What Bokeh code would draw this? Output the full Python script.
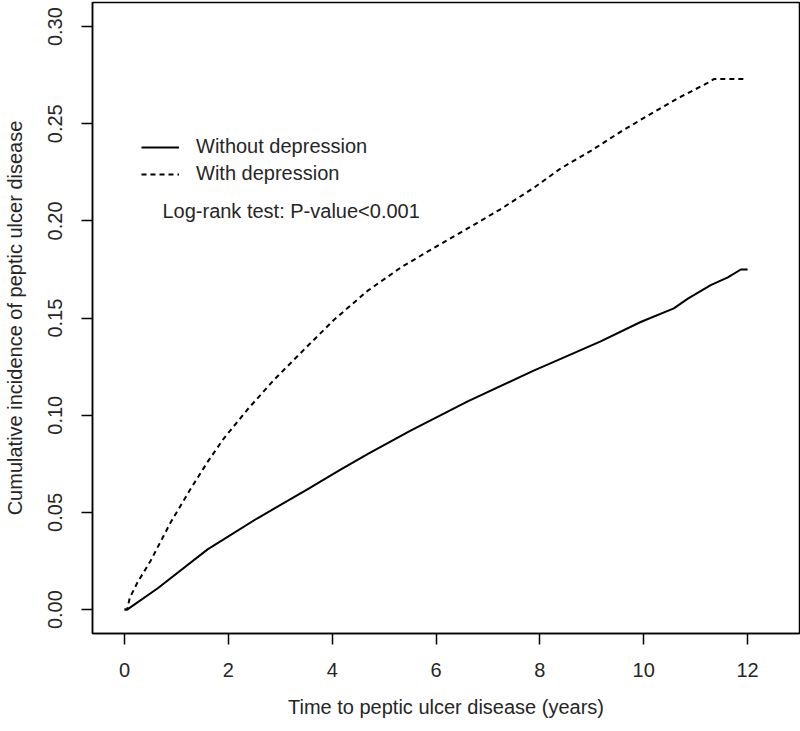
from bokeh.plotting import figure
from bokeh.models import Range1d, FixedTicker, Legend, LegendItem, Label, CustomJSTickFormatter
from bokeh.embed import file_html
from bokeh.resources import INLINE

# --- data ---
t_dep = [0.0, 0.05, 0.1, 0.25, 0.5, 0.89, 1.27, 1.6, 1.91, 2.37, 2.87, 3.39, 4.03, 4.68, 5.32,
         5.95, 6.6, 7.24, 7.88, 8.4, 8.98, 9.56, 10.13, 10.65, 11.23, 11.35, 11.97]
v_dep = [0.0, 0.0, 0.006, 0.014, 0.025, 0.045, 0.062, 0.076, 0.088, 0.103, 0.118, 0.132, 0.149,
         0.164, 0.176, 0.186, 0.196, 0.206, 0.217, 0.227, 0.236, 0.246, 0.255, 0.263, 0.271,
         0.273, 0.273]

t_nodep = [0.0, 0.05, 0.64, 1.6, 2.56, 3.53, 4.16, 4.68, 5.5, 6.6, 7.88, 8.4, 9.17, 9.94, 10.58,
           10.85, 11.29, 11.62, 11.87, 12.0]
v_nodep = [0.0, 0.0, 0.011, 0.031, 0.047, 0.062, 0.072, 0.080, 0.092, 0.107, 0.123, 0.129, 0.138,
           0.148, 0.155, 0.160, 0.167, 0.171, 0.175, 0.175]

x_ticks = [0, 2, 4, 6, 8, 10, 12]
y_ticks = [0.00, 0.05, 0.10, 0.15, 0.20, 0.25, 0.30]

FONT = "Liberation Sans"
TXT = "#262626"
FS = "20px"

p = figure(width=800, height=731, output_backend="svg", toolbar_location=None,
           x_range=Range1d(-0.617, 13.0), y_range=Range1d(-0.0123, 0.3124),
           min_border_left=92, min_border_right=1, min_border_top=2, min_border_bottom=98)
p.grid.visible = False
p.background_fill_color = "white"
p.border_fill_color = "white"
p.outline_line_color = "black"
p.outline_line_width = 1.5

r_no = p.line(t_nodep, v_nodep, line_color="black", line_width=2)
r_de = p.line(t_dep, v_dep, line_color="black", line_width=2, line_dash="5 4")

for ax in (p.xaxis[0], p.yaxis[0]):
    ax.axis_line_color = "black"
    ax.axis_line_width = 1.5
    ax.major_tick_line_color = "black"
    ax.major_tick_line_width = 1.5
    ax.major_tick_out = 11
    ax.major_tick_in = 0
    ax.minor_tick_line_color = None
    ax.major_label_text_font = FONT
    ax.major_label_text_font_size = FS
    ax.major_label_text_color = TXT
    ax.axis_label_text_font = FONT
    ax.axis_label_text_font_size = FS
    ax.axis_label_text_font_style = "normal"
    ax.axis_label_text_color = TXT

p.xaxis.ticker = FixedTicker(ticks=x_ticks)
p.yaxis.ticker = FixedTicker(ticks=y_ticks)
p.yaxis.formatter = CustomJSTickFormatter(code="return tick.toFixed(2);")
p.yaxis.major_label_orientation = "vertical"
p.xaxis.major_label_standoff = 18
p.yaxis.major_label_standoff = 19
p.xaxis.axis_label = "Time to peptic ulcer disease (years)"
p.yaxis.axis_label = "Cumulative incidence of peptic ulcer disease"
p.xaxis.axis_label_standoff = 16
p.yaxis.axis_label_standoff = 20

legend = Legend(items=[LegendItem(label="Without depression", renderers=[r_no]),
                       LegendItem(label="With depression", renderers=[r_de])],
                location=(49, 448), orientation="vertical",
                background_fill_alpha=0, border_line_color=None,
                label_text_font=FONT, label_text_font_size=FS, label_text_color=TXT,
                glyph_width=38, glyph_height=20, label_height=20, label_standoff=17,
                spacing=4, padding=4, margin=0)
p.add_layout(legend, "center")

p.add_layout(Label(x=0.73, y=0.205, text="Log-rank test: P-value<0.001",
                   text_font=FONT, text_font_size=FS, text_color=TXT,
                   text_baseline="middle", text_align="left"))

open("out.html", "w").write(file_html(p, INLINE))
